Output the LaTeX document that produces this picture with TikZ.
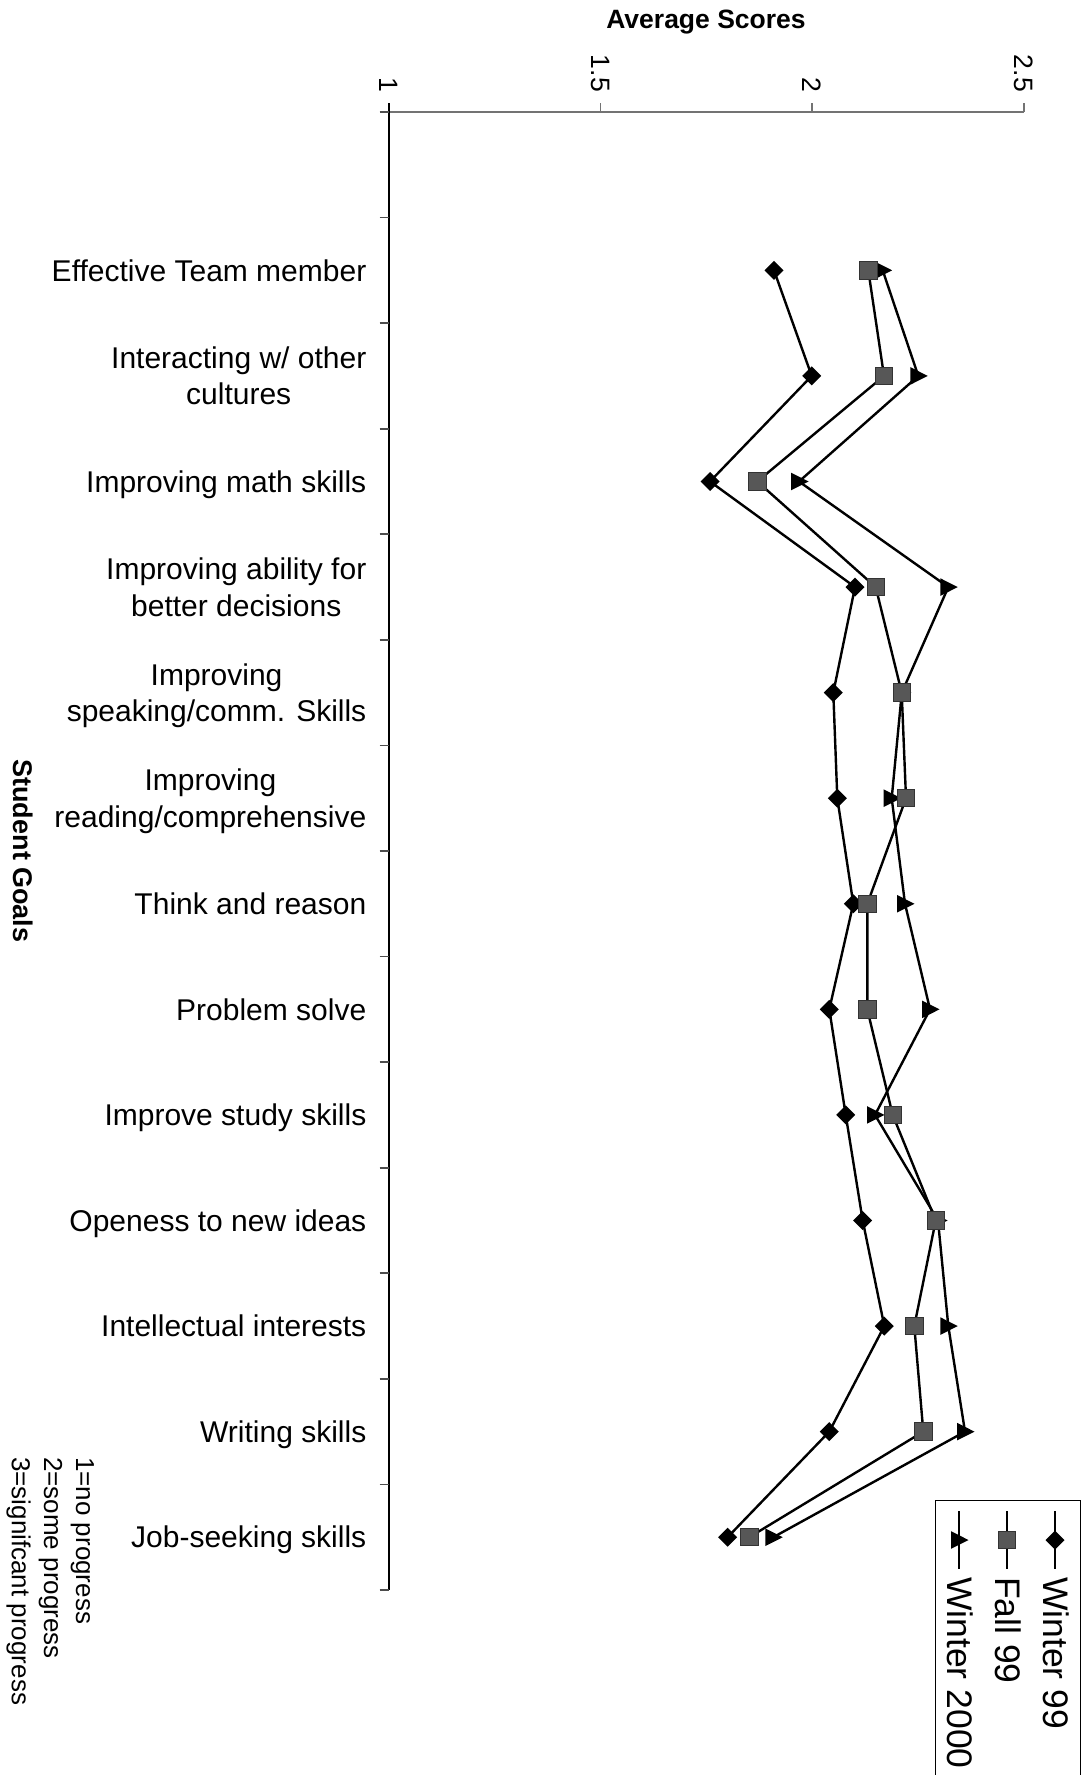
\documentclass[tikz,border=0pt]{standalone}
\usepackage{fontspec}
\setmainfont{Liberation Sans}
\definecolor{sqfill}{gray}{0.34}
\definecolor{axgray}{gray}{0.45}
\begin{document}
\begin{tikzpicture}[x=1pt,y=-1pt,
  catlabel/.style={font=\fontsize{30}{36}\selectfont, inner sep=0pt},
  ticklabel/.style={font=\fontsize{26.6}{32}\selectfont, inner sep=0pt, rotate=-90, anchor=east},
  legtext/.style={font=\fontsize{35.5}{42}\selectfont, inner sep=0pt, rotate=-90, anchor=base west},
  foottext/.style={font=\fontsize{26}{31}\selectfont, inner sep=0pt, rotate=-90, anchor=base west},
  serline/.style={line width=2.4pt, black, line join=round},
  pics/dmk/.style={code={\fill[black] (-9.5,0)--(0,-9.5)--(9.5,0)--(0,9.5)--cycle;}},
  pics/smk/.style={code={\filldraw[fill=sqfill, draw=black!80, line width=1pt] (-8.7,-8.7) rectangle (8.7,8.7);}},
  pics/tmk/.style={code={\fill[black] (-8,-8.8)--(9.5,0)--(-8,8.8)--cycle;}}
]
\useasboundingbox (0,0) rectangle (1084,1775);

% axes
\coordinate (o) at (388.5,112);
\coordinate (xend) at (1024,112);
\coordinate (ytop) at (388.5,103);
\coordinate (ybot) at (388.5,1590);
\draw[axgray, line width=1.8pt] (o) -- (xend);
\draw[black, line width=2pt] (ytop) -- (ybot);
\foreach \t in {600.35,812.2,1024} \draw[axgray, line width=1.6pt] (\t,112) -- (\t,103);
\foreach \k in {0,...,14} \draw[black!70, line width=1.6pt] (379.5,{112+\k*105.57}) -- (388.5,{112+\k*105.57});

% axis labels
\node[ticklabel] (t1) at (388.5,92) {1};
\node[ticklabel] (t15) at (600.35,92) {1.5};
\node[ticklabel] (t2) at (812.2,92) {2};
\node[ticklabel] (t25) at (1024,92) {2.5};
\node[font=\bfseries\fontsize{26.5}{32}\selectfont, inner sep=0pt, anchor=base] (xtitle) at (706,28) {Average Scores};
\node[font=\bfseries\fontsize{27}{32}\selectfont, inner sep=0pt, rotate=-90] (ytitle) at (23.5,851) {Student Goals};

% category labels
\node[catlabel, anchor=base east] (c1) at (366.5,281.1) {Effective Team member};
\node[catlabel, anchor=base east] (c2a) at (366.5,368.6) {Interacting w/ other};
\node[catlabel, anchor=base] (c2b) at ([yshift=-36.2pt]c2a.base) {cultures};
\node[catlabel, anchor=base east] (c3) at (366.5,492.2) {Improving math skills};
\node[catlabel, anchor=base east] (c4a) at (366.5,579.8) {Improving ability for};
\node[catlabel, anchor=base] (c4b) at ([yshift=-36.2pt]c4a.base) {better decisions};
\node[catlabel, anchor=base east] (c5b) at (366.5,721.5) {speaking/comm. Skills};
\node[catlabel, anchor=base] (c5a) at ([yshift=36.2pt]c5b.base) {Improving};
\node[catlabel, anchor=base east] (c6b) at (366.5,827.1) {reading/comprehensive};
\node[catlabel, anchor=base] (c6a) at ([yshift=36.2pt]c6b.base) {Improving};
\node[catlabel, anchor=base east] (c7) at (366.5,914.5) {Think and reason};
\node[catlabel, anchor=base east] (c8) at (366.5,1020.0) {Problem solve};
\node[catlabel, anchor=base east] (c9) at (366.5,1125.6) {Improve study skills};
\node[catlabel, anchor=base east] (c10) at (366.5,1231.2) {Openess to new ideas};
\node[catlabel, anchor=base east] (c11) at (366.5,1336.8) {Intellectual interests};
\node[catlabel, anchor=base east] (c12) at (366.5,1442.3) {Writing skills};
\node[catlabel, anchor=base east] (c13) at (366.5,1547.9) {Job-seeking skills};

% data points
\foreach \v [count=\i] in {774,811.7,710,855,833.3,837.3,853.3,829.3,845.7,862.7,884.3,829.3,727.6}
  \coordinate (w\i) at (\v,{112+(\i+0.5)*105.57});
\foreach \v [count=\i] in {868.3,884,757.3,875.7,901.7,906,867.3,867.3,892.7,935.7,914.3,923.3,749.3}
  \coordinate (f\i) at (\v,{112+(\i+0.5)*105.57});
\foreach \v [count=\i] in {882.7,918.3,799,948.3,901.8,891.7,905,930,875,938,948.3,965,773.3}
  \coordinate (z\i) at (\v,{112+(\i+0.5)*105.57});

\draw[serline] (z1) \foreach \i in {2,...,13} {-- (z\i)};
\draw[serline] (w1) \foreach \i in {2,...,13} {-- (w\i)};
\draw[serline] (f1) \foreach \i in {2,...,13} {-- (f\i)};
\foreach \i in {1,...,13} \pic at (z\i) {tmk};
\foreach \i in {1,...,13} \pic at (w\i) {dmk};
\foreach \i in {1,...,13} \pic at (f\i) {smk};

% legend
\coordinate (lgA) at (935.7,1500.7);
\coordinate (lgB) at (1080.5,1500.7);
\coordinate (lgC) at (1080.5,1790);
\coordinate (lgD) at (935.7,1790);
\draw[black, line width=1.5pt] (lgD) -- (lgA) -- (lgB) -- (lgC);
\coordinate (l1a) at (1055,1511); \coordinate (l1b) at (1055,1569);
\coordinate (l2a) at (1007,1511); \coordinate (l2b) at (1007,1569);
\coordinate (l3a) at (959,1511);  \coordinate (l3b) at (959,1569);
\draw[serline] (l1a) -- (l1b);
\draw[serline] (l2a) -- (l2b);
\draw[serline] (l3a) -- (l3b);
\pic at (1055,1540) {dmk};
\pic at (1007,1540) {smk};
\pic at (959,1540) {tmk};
\node[legtext] (lt1) at (1043,1577) {Winter 99};
\node[legtext] (lt2) at (995,1577) {Fall 99};
\node[legtext] (lt3) at (947,1577) {Winter 2000};

% footnote
\node[foottext] (n1) at (76,1457) {1=no progress};
\node[foottext] (n2) at (44,1457) {2=some progress};
\node[foottext] (n3) at (12,1457) {3=signifcant progress};
\end{tikzpicture}
\end{document}
